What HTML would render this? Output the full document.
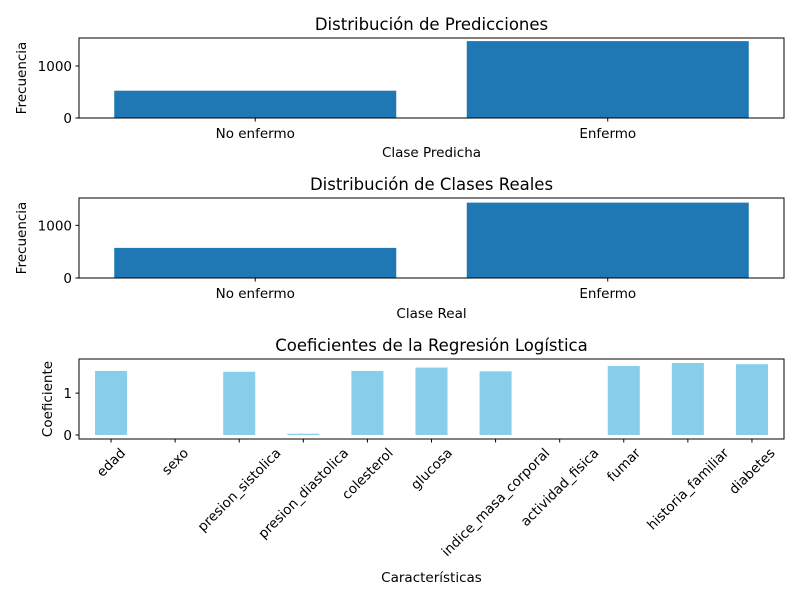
<!DOCTYPE html>
<html><head><meta charset="utf-8"><style>
body{margin:0;background:#fff}
svg text{font-family:"DejaVu Sans","Liberation Sans",sans-serif;fill:#000}
</style></head><body>
<svg id="c" width="800" height="600" xmlns="http://www.w3.org/2000/svg"></svg>
<script>
const predCats=["No enfermo","Enfermo"];
const predVals=[525,1478];
const realCats=["No enfermo","Enfermo"];
const realVals=[572,1432];
const coefCats=["edad","sexo","presion_sistolica","presion_diastolica","colesterol","glucosa","indice_masa_corporal","actividad_fisica","fumar","historia_familiar","diabetes"];
const coefVals=[1.53,0,1.51,0.03,1.53,1.61,1.52,0,1.65,1.72,1.69];
const countTicks=[0,1000];
const coefTicks=[0,1];

const svg=document.getElementById('c');
const NS="http://www.w3.org/2000/svg";
function mk(tag,attrs,parent,text){const e=document.createElementNS(NS,tag);for(const k in attrs)e.setAttribute(k,attrs[k]);if(text!==undefined)e.textContent=text;(parent||svg).appendChild(e);return e;}

function panel(o){
  const g=mk('g',{});
  
  
  const n=o.cats.length;
  const xs=i=>o.x0+(i+0.5)*(o.x1-o.x0)/n;
  const step=(o.x1-o.x0)/n;
  const ys=v=>o.y1-(v-o.ymin)/(o.ymax-o.ymin)*(o.y1-o.y0);
  o.vals.forEach((v,i)=>{
    const r=mk('rect',{x:xs(i)-o.bw*step/2,y:Math.min(ys(v),ys(0)),width:o.bw*step,height:Math.abs(ys(0)-ys(v)),fill:o.color},g);
    
    
  });
  mk('rect',{x:o.x0,y:o.y0,width:o.x1-o.x0,height:o.y1-o.y0,fill:'none',stroke:'#000','stroke-width':1},g);
  o.yticks.forEach(t=>{
    const y=ys(t);
    mk('line',{x1:o.x0-3.5,x2:o.x0,y1:y,y2:y,stroke:'#000'},g);
    const tl=mk('text',{x:o.x0-7,y:y+5,'text-anchor':'end','font-size':13.5},g,String(t));
    
    
  });
  o.cats.forEach((c,i)=>{
    const x=xs(i);
    mk('line',{x1:x,x2:x,y1:o.y1,y2:o.y1+3.5,stroke:'#000'},g);
    let tl;
    if(o.rot){
      tl=mk('text',{x:x,y:0,'text-anchor':'middle','font-size':13.5},g,c);
      const w=tl.getComputedTextLength(), h=13;
      const bh=(w+h)*0.7071;
      const cy=o.y1+7+bh/2;
      tl.setAttribute('y',cy+4.5);
      tl.setAttribute('transform',`rotate(-45 ${x} ${cy})`);
    }
    else tl=mk('text',{x:x,y:o.y1+20,'text-anchor':'middle','font-size':13.5},g,c);
    
    
  });
  const t=mk('text',{x:(o.x0+o.x1)/2,y:o.y0-8,'text-anchor':'middle','font-size':16.5},g,o.title);
  
  
  const xl=mk('text',{x:(o.x0+o.x1)/2,y:o.xly,'text-anchor':'middle','font-size':13.5},g,o.xlabel);
  
  
  const yx=o.ylx, yy=(o.y0+o.y1)/2;
  const yl=mk('text',{x:yx,y:yy,'text-anchor':'middle','font-size':13.5,transform:`rotate(-90 ${yx} ${yy})`},g,o.ylabel);
  
  
}
panel({name:'predictions-panel',cats:predCats,vals:predVals,x0:79,x1:784,y0:38,y1:118,ymin:0,ymax:1538,bw:0.8,color:'#1f77b4',yticks:countTicks,title:'Distribución de Predicciones',xlabel:'Clase Predicha',xly:157,ylabel:'Frecuencia',ylx:26});
panel({name:'real-classes-panel',cats:realCats,vals:realVals,x0:79,x1:784,y0:198,y1:278,ymin:0,ymax:1520,bw:0.8,color:'#1f77b4',yticks:countTicks,title:'Distribución de Clases Reales',xlabel:'Clase Real',xly:318,ylabel:'Frecuencia',ylx:26});
panel({name:'coefficients-panel',cats:coefCats,vals:coefVals,x0:79,x1:784,y0:359,y1:439,ymin:-0.096,ymax:1.815,bw:0.5,color:'#87ceeb',yticks:coefTicks,rot:true,title:'Coeficientes de la Regresión Logística',xlabel:'Características',xly:582,ylabel:'Coeficiente',ylx:52});
</script>
</body></html>
